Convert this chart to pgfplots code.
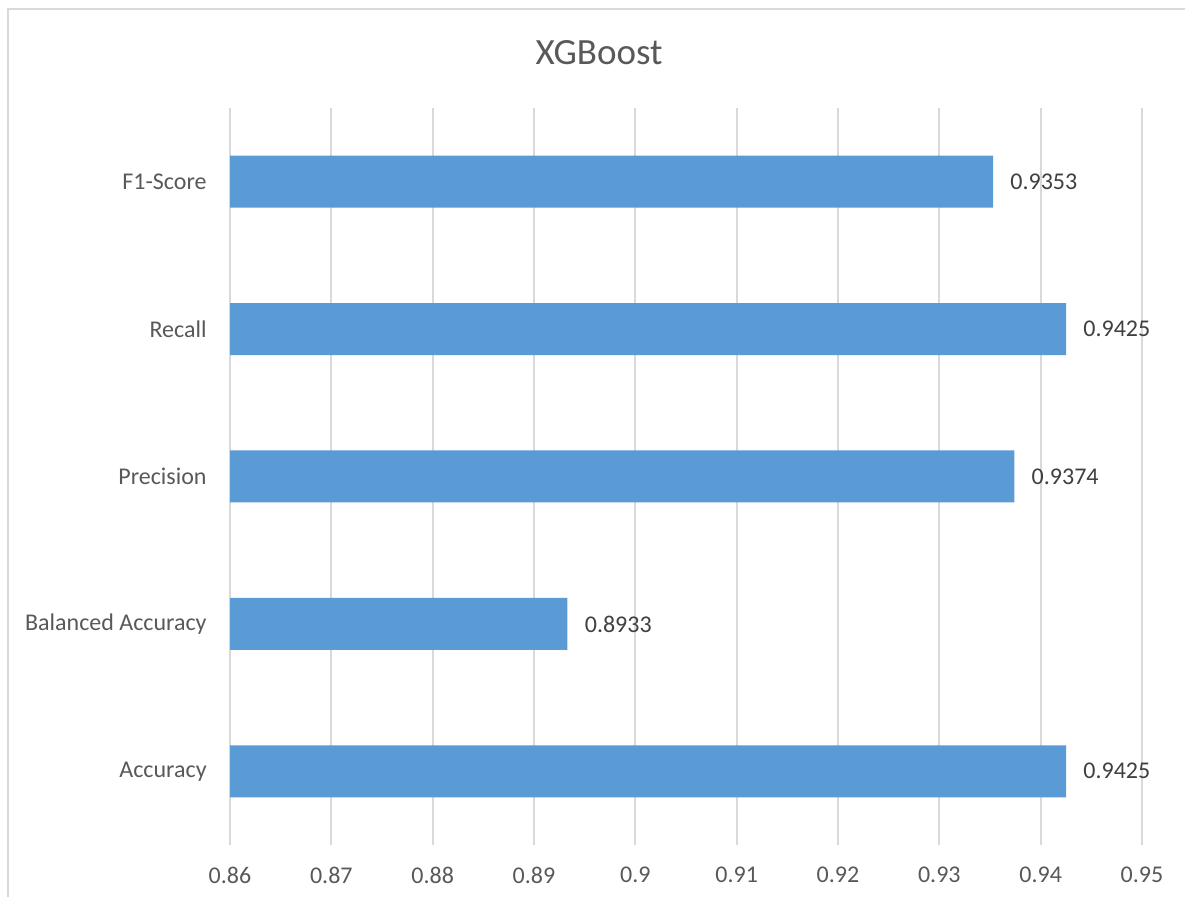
\documentclass[border=0pt]{standalone}
\usepackage{pgfplots}
\pgfplotsset{compat=1.18}
\usepackage{fontspec}
\setmainfont{Carlito}
\definecolor{barblue}{HTML}{5B9BD5}
\definecolor{axtext}{HTML}{595959}
\definecolor{lbltext}{HTML}{404040}
\definecolor{gridgray}{HTML}{D9D9D9}
\begin{document}
\begin{tikzpicture}
\useasboundingbox (0,0) rectangle (592.5bp,448.5bp);
\fill[white] (0,0) rectangle (592.5bp,448.5bp);
\draw[gridgray, line width=1bp] (4bp,0) -- (4bp,443.75bp) -- (592.5bp,443.75bp);
\node[anchor=base, text=axtext, inner sep=0] at (299.5bp,416.35bp) {\fontsize{18.5bp}{22bp}\selectfont XGBoost};
\begin{axis}[
  at={(115bp,26bp)}, anchor=south west,
  scale only axis, width=456bp, height=368.5bp,
  xbar, bar width=26bp,
  xmin=0.86, xmax=0.95, ymin=-0.5, ymax=4.5,
  xtick={0.86,0.87,0.88,0.89,0.9,0.91,0.92,0.93,0.94,0.95},
  xticklabels={0.86,0.87,0.88,0.89,0.9,0.91,0.92,0.93,0.94,0.95},
  ytick={0,1,2,3,4},
  yticklabels={Accuracy,Balanced Accuracy,Precision,Recall,F1-Score},
  axis x line*=bottom, axis y line*=left,
  axis line style={draw=none},
  major tick length=0pt, tick style={draw=none},
  xmajorgrids, major grid style={gridgray, line width=1bp},
  ticklabel style={font=\fontsize{12bp}{14bp}\selectfont, text=axtext, inner sep=0pt},
  xticklabel style={yshift=-11bp},
  yticklabel style={xshift=-11.5bp},
  /pgf/number format/assume math mode=true,
  point meta=explicit symbolic,
  nodes near coords,
  nodes near coords style={anchor=west, inner sep=0pt, xshift=8.5bp, font=\fontsize{12bp}{14bp}\selectfont, text=lbltext},
  clip=true,
]
\addplot[fill=barblue, draw=none] coordinates {
  (0.9425,0) [0.9425]
  (0.8933,1) [0.8933]
  (0.9374,2) [0.9374]
  (0.9425,3) [0.9425]
  (0.9353,4) [0.9353]
};
\end{axis}
\end{tikzpicture}
\end{document}
